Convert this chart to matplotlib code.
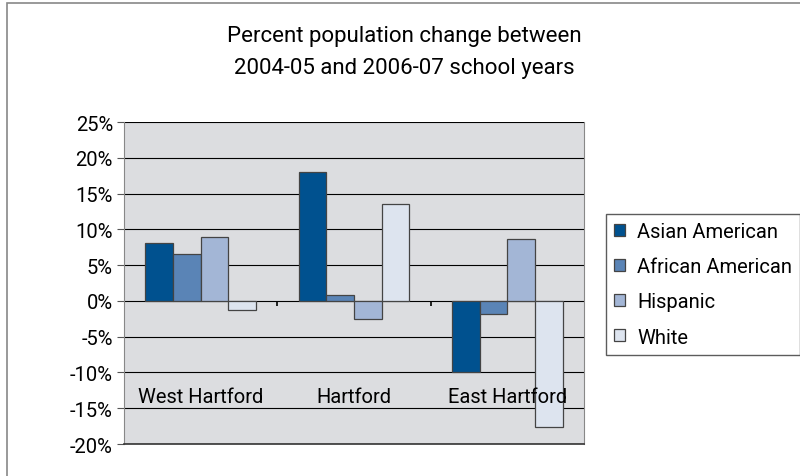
import matplotlib
matplotlib.use('Agg')
import matplotlib.pyplot as plt
import numpy as np

plt.rcParams['font.family'] = ['Roboto', 'DejaVu Sans']

towns = ['West Hartford', 'Hartford', 'East Hartford']
groups = ['Asian American', 'African American', 'Hispanic', 'White']
asian = [8.1, 18.0, -10.0]
african = [6.5, 0.9, -1.8]
hispanic = [8.9, -2.5, 8.7]
white = [-1.3, 13.6, -17.6]
yticks = [25, 20, 15, 10, 5, 0, -5, -10, -15, -20]
colors = ['#00518f', '#5a84b6', '#a3b6d6', '#dde4ef']

fig = plt.figure(figsize=(8, 4.77), dpi=100)
# outer chart frame (cut by the image edges on the right and bottom)
fig.patches.append(plt.Rectangle((0.009, -0.1), 1.2, 1.092, transform=fig.transFigure,
                                 fill=False, edgecolor='#888888', linewidth=1.2))

ax = fig.add_axes([0.155, 0.067, 0.575, 0.675])
ax.set_facecolor('#dcdde0')

x = np.arange(len(towns))
w = 0.18
for i, (vals, name) in enumerate(zip([asian, african, hispanic, white], groups)):
    ax.bar(x + (i - 1.5) * w, vals, w, color=colors[i], edgecolor='#444444',
           linewidth=0.9, label=name, zorder=3)

ax.set_ylim(-20, 25)
ax.set_xlim(-0.5, 2.5)
ax.set_yticks(yticks)
ax.set_yticklabels([f'{t}%' for t in yticks], fontsize=14.5)
ax.yaxis.grid(True, color='black', linewidth=0.8, zorder=1)
ax.set_axisbelow(True)
ax.set_xticks([])
ax.tick_params(axis='y', length=5, color='#555555', pad=3)

for s in ['top', 'right', 'left']:
    ax.spines[s].set_color('#888888')
ax.spines['top'].set_visible(False)
ax.spines['bottom'].set_color('#333333')
ax.spines['bottom'].set_linewidth(1.2)

# little ticks on the zero line between towns
ax.vlines(x[:-1] + 0.5, -0.7, 0, color='black', linewidth=1.2, zorder=4)

for xi, t in zip(x, towns):
    ax.text(xi, -13.3, t, ha='center', va='center', fontsize=14.5, zorder=5)

fig.suptitle('Percent population change between\n2004-05 and 2006-07 school years',
             x=0.506, y=0.945, fontsize=16, linespacing=1.65)

leg = ax.legend(loc='upper left', bbox_to_anchor=(1.048, 0.714), fontsize=14.5,
                frameon=True, fancybox=False, edgecolor='#333333',
                handlelength=0.55, handleheight=0.55, labelspacing=0.8,
                borderpad=0.4, handletextpad=0.6, borderaxespad=0)
leg.get_frame().set_linewidth(1.0)

fig.savefig('out.png', dpi=100)
